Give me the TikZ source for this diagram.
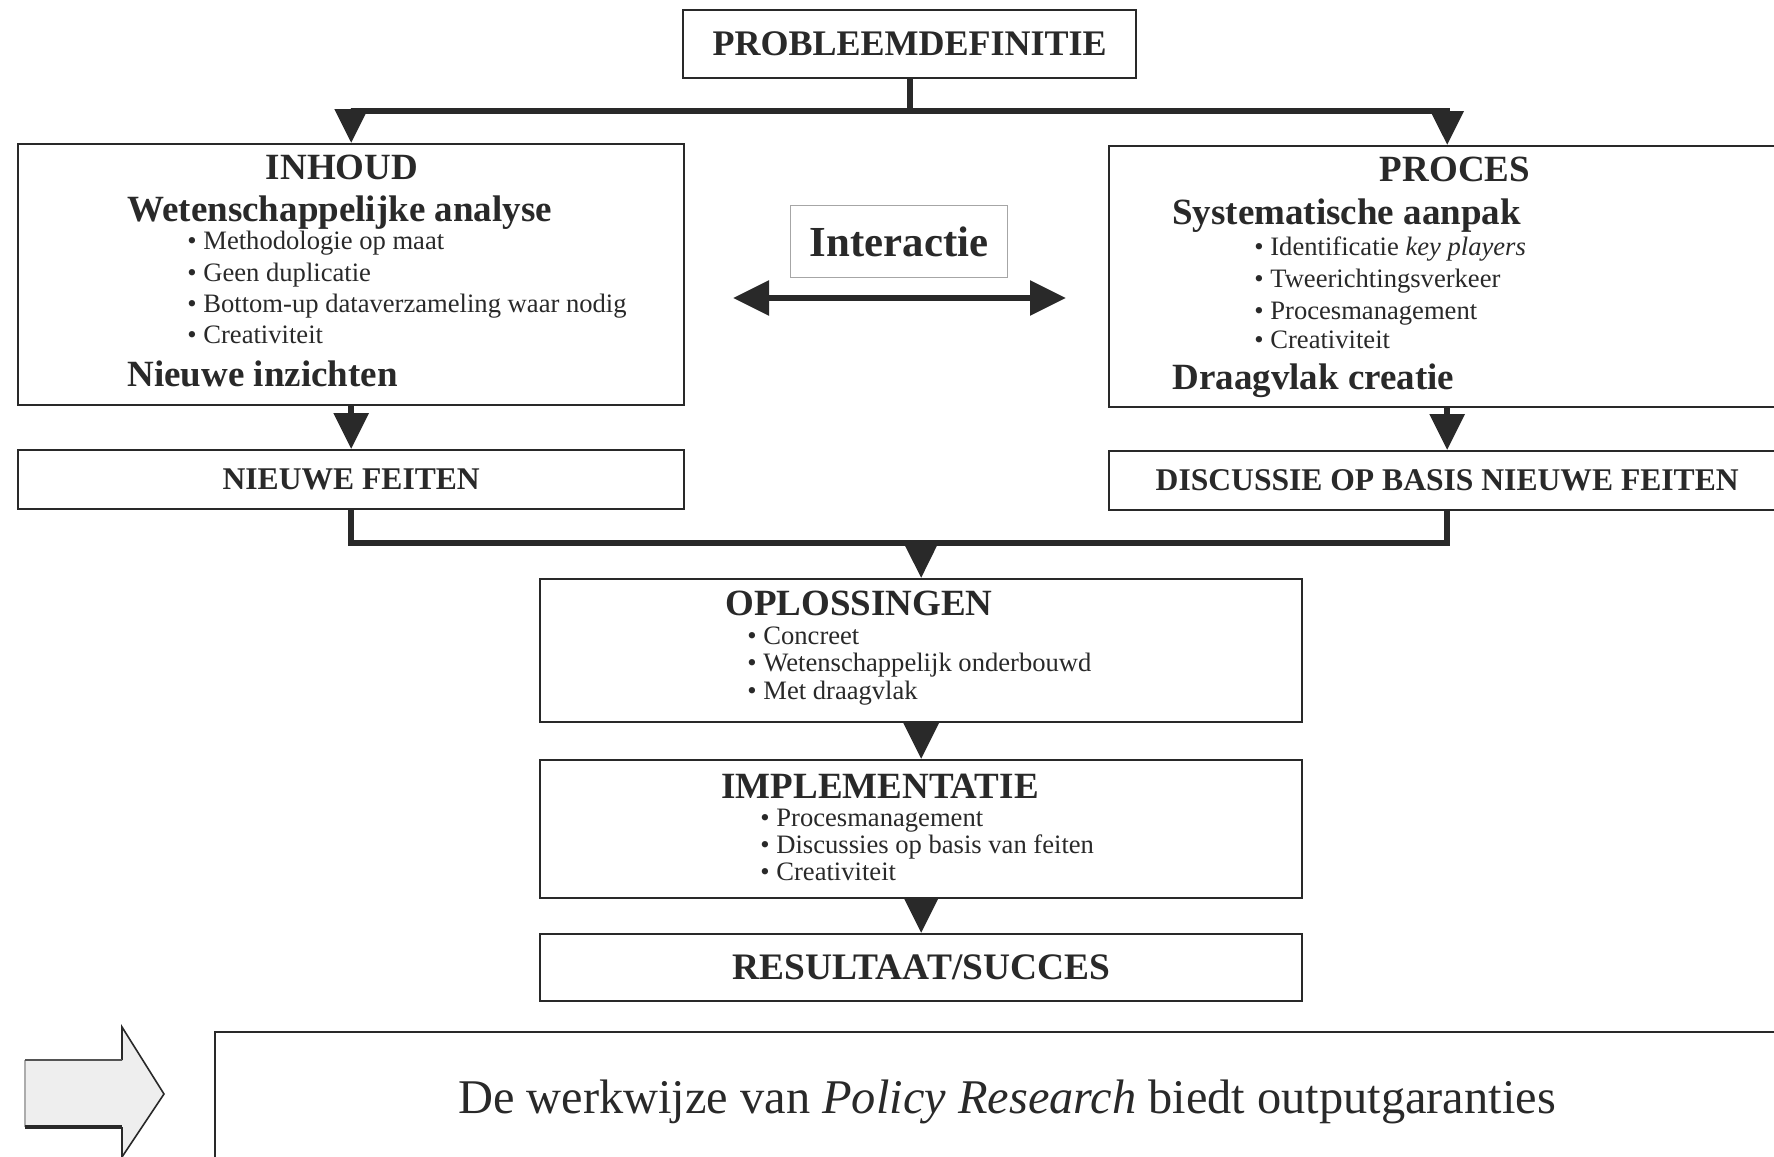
\documentclass[tikz,border=0pt]{standalone}
\usepackage{fontspec}
\setmainfont{Liberation Serif}
\usetikzlibrary{arrows.meta}
\definecolor{ink}{gray}{0.16}
\newcommand{\hdfont}{\fontsize{18.5}{22}\selectfont\bfseries}
\newcommand{\blfont}{\fontsize{13.3}{16}\selectfont}
\begin{document}
\begin{tikzpicture}[x=0.5pt,y=-0.5pt,
  box/.style={draw=ink,line width=1.2pt,inner sep=0pt,text=ink},
  conn/.style={draw=ink,line width=3pt},
  arr/.style={conn,-{Triangle[length=18pt,width=17pt]}},
  arrtop/.style={conn,-{Triangle[length=17pt,width=16pt]}},
  hd/.style={font=\hdfont,inner sep=0pt,text=ink},
  bl/.style={font=\blfont,inner sep=0pt,text=ink,anchor=base west}]
\useasboundingbox (0,0) rectangle (1774,1157);
\clip (0,0) rectangle (1774,1157);
\fill[white] (0,0) rectangle (1774,1157);

% boxes
\node[box,anchor=north west,minimum width=226.5pt,minimum height=34pt,font=\fontsize{18}{22}\selectfont\bfseries] (prob) at (682,9) {PROBLEEMDEFINITIE};
\node[box,anchor=north west,minimum width=333pt,minimum height=130.5pt] (inh) at (17,143) {};
\node[box,anchor=north west,minimum width=338pt,minimum height=130.5pt] (proc) at (1108,145) {};
\node[box,draw=gray!70,line width=0.6pt,anchor=north west,minimum width=108.5pt,minimum height=36pt,font=\fontsize{21.4}{25}\selectfont\bfseries] (inter) at (790,205) {Interactie};
\node[box,anchor=north west,minimum width=333pt,minimum height=29.5pt,font=\fontsize{15.8}{19}\selectfont\bfseries] (nf) at (17,449) {NIEUWE FEITEN};
\node[box,anchor=north west,minimum width=338pt,minimum height=29.5pt,font=\fontsize{15.8}{19}\selectfont\bfseries] (ds) at (1108,450) {DISCUSSIE OP BASIS NIEUWE FEITEN};
\node[box,anchor=north west,minimum width=381pt,minimum height=71.5pt] (opl) at (539,578) {};
\node[box,anchor=north west,minimum width=381pt,minimum height=69pt] (impl) at (539,759) {};
\node[box,anchor=north west,minimum width=381pt,minimum height=33.5pt,font=\fontsize{18.7}{22}\selectfont\bfseries] (res) at (539,933) {RESULTAAT/SUCCES};
\node[box,anchor=north west,minimum width=800pt,minimum height=75pt] (bot) at (214,1031) {};

% INHOUD texts
\node[hd,anchor=base] (t1) at (342,179) {INHOUD};
\node[hd,anchor=base west] (t2) at (127,221) {Wetenschappelijke analyse};
\node[bl] (t3) at (187,249) {• Methodologie op maat};
\node[bl] (t4) at (187,281) {• Geen duplicatie};
\node[bl] (t5) at (187,312) {• Bottom-up dataverzameling waar nodig};
\node[bl] (t6) at (187,343) {• Creativiteit};
\node[hd,anchor=base west] (t7) at (127,386) {Nieuwe inzichten};

% PROCES texts
\node[hd,anchor=base] (p1) at (1455,181) {PROCES};
\node[hd,anchor=base west] (p2) at (1172,224) {Systematische aanpak};
\node[bl] (p3) at (1254,255) {• Identificatie \textit{key players}};
\node[bl] (p4) at (1254,287) {• Tweerichtingsverkeer};
\node[bl] (p5) at (1254,319) {• Procesmanagement};
\node[bl] (p6) at (1254,348) {• Creativiteit};
\node[hd,anchor=base west] (p7) at (1172,389) {Draagvlak creatie};

% OPLOSSINGEN texts
\node[hd,anchor=base west] (o1) at (725,615) {OPLOSSINGEN};
\node[bl] (o2) at (747,644) {• Concreet};
\node[bl] (o3) at (747,671) {• Wetenschappelijk onderbouwd};
\node[bl] (o4) at (747,699) {• Met draagvlak};

% IMPLEMENTATIE texts
\node[hd,anchor=base west] (i1) at (721,798) {IMPLEMENTATIE};
\node[bl] (i2) at (760,826) {• Procesmanagement};
\node[bl] (i3) at (760,853) {• Discussies op basis van feiten};
\node[bl] (i4) at (760,880) {• Creativiteit};

% bottom text
\node[inner sep=0pt,anchor=base,text=ink,font=\fontsize{24.2}{29}\selectfont] (bt) at (1007,1113) {De werkwijze van \textit{Policy Research} biedt outputgaranties};

% connectors
\draw[conn] (prob.south) -- ++(0,32) coordinate (j);
\draw[arrtop] (j) -| (inh.north);
\draw[arrtop] (j) -| (proc.north);
\draw[arr] (inh.south) -- (nf.north);
\draw[arr] (proc.south) -- (ds.north);
\coordinate (m) at (921,543);
\draw[conn] (nf.south) |- (m) -| (ds.south);
\draw[arr] (m) -- (opl.north);
\draw[arr] (opl.south) -- (impl.north);
\draw[arr] (impl.south) -- (res.north);
\coordinate (ia) at (733,298);
\coordinate (ib) at (1066,298);
\draw[conn,{Triangle[length=18pt,width=17pt]}-{Triangle[length=18pt,width=17pt]}] (ia) -- (ib);

% big arrow symbol
\fill[gray!13] (25,1060) -- (122,1060) -- (122,1027) -- (164,1094) -- (122,1157) -- (122,1127) -- (25,1127) -- cycle;
\draw[gray!65,line width=0.7pt] (25,1127) -- (25,1060);
\draw[ink,line width=0.8pt] (122,1060) -- (122,1027) -- (164,1094) -- (122,1157) -- (122,1127);
\draw[ink!80,line width=1.2pt] (25,1060) -- (122,1060);
\draw[ink,line width=2.4pt] (25,1127) -- (122,1127);
\end{tikzpicture}
\end{document}
